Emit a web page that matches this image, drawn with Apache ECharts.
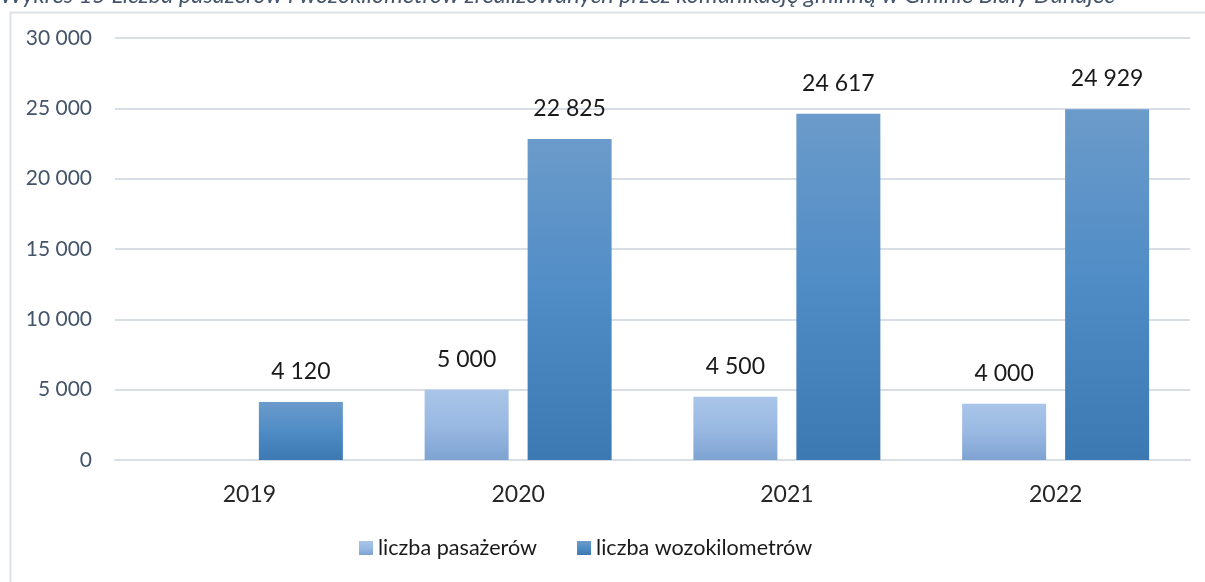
<!DOCTYPE html>
<html>
<head>
<meta charset="utf-8">
<script src="https://cdn.jsdelivr.net/npm/echarts@6/dist/echarts.min.js"></script>
<style>
html,body{margin:0;padding:0;background:#fff;}
#chart{width:1205px;height:582px;}
</style>
</head>
<body>
<div id="chart"></div>
<script>
const titleText = 'Wykres 15 Liczba pasażerów i wozokilometrów zrealizowanych przez komunikację gminną w Gminie Biały Dunajec';
const categories = ['2019', '2020', '2021', '2022'];
const seriesNames = ['liczba pasażerów', 'liczba wozokilometrów'];
const pasazerowie = [null, 5000, 4500, 4000];
const wozokilometry = [4120, 22825, 24617, 24929];
const yTicks = [0, 5000, 10000, 15000, 20000, 25000, 30000];

const fmt = v => String(Math.round(v)).replace(/\B(?=(\d{3})+(?!\d))/g, ' ');
const FONT = 'Lato';

const chart = echarts.init(document.getElementById('chart'), null, {renderer: 'canvas'});
chart.setOption({
  animation: false,
  backgroundColor: '#ffffff',
  textStyle: {fontFamily: FONT},
  graphic: [
    {type: 'rect', left: 8, top: 10, shape: {width: 1300, height: 700}, style: {fill: 'none', stroke: '#dde2e8', lineWidth: 2}, z: 0},
    {type: 'text', left: 0, top: -17, style: {text: titleText, fill: '#44546A', font: 'italic 23.6px Lato'}}
  ],
  grid: {left: 115, right: 15, top: 38, bottom: 122, containLabel: false},
  legend: {
    data: seriesNames,
    bottom: 18,
    left: 354,
    itemWidth: 14,
    itemHeight: 14,
    itemGap: 40,
    icon: 'rect',
    textStyle: {fontSize: 21.6, color: '#1a1a1a', fontFamily: FONT}
  },
  xAxis: {
    type: 'category',
    data: categories,
    axisLine: {lineStyle: {color: '#d9dee5', width: 2}},
    axisTick: {show: false},
    axisLabel: {fontSize: 23, color: '#262626', margin: 23, fontFamily: FONT}
  },
  yAxis: {
    type: 'value',
    min: yTicks[0],
    max: yTicks[yTicks.length - 1],
    interval: yTicks[1] - yTicks[0],
    axisLine: {show: false},
    axisTick: {show: false},
    splitLine: {lineStyle: {color: '#d9dee5', width: 2}},
    axisLabel: {fontSize: 21, color: '#44546A', margin: 23, formatter: fmt, fontFamily: FONT}
  },
  series: [
    {
      name: seriesNames[0],
      type: 'bar',
      data: pasazerowie,
      barWidth: 84,
      barGap: '22.6%',
      itemStyle: {color: new echarts.graphic.LinearGradient(0, 0, 0, 1, [
        {offset: 0, color: '#a9c5e8'}, {offset: 0.5, color: '#9ab9e2'}, {offset: 1, color: '#7ea3d2'}])},
      label: {show: true, position: 'top', distance: 19, fontSize: 23, color: '#1a1a1a', formatter: p => fmt(p.value), fontFamily: FONT}
    },
    {
      name: seriesNames[1],
      type: 'bar',
      data: wozokilometry,
      barWidth: 84,
      itemStyle: {color: new echarts.graphic.LinearGradient(0, 0, 0, 1, [
        {offset: 0, color: '#6b9bca'}, {offset: 0.5, color: '#4f8cc6'}, {offset: 1, color: '#3c78b1'}])},
      label: {show: true, position: 'top', distance: 19, fontSize: 23, color: '#1a1a1a', formatter: p => fmt(p.value), fontFamily: FONT}
    }
  ]
});
</script>
</body>
</html>
